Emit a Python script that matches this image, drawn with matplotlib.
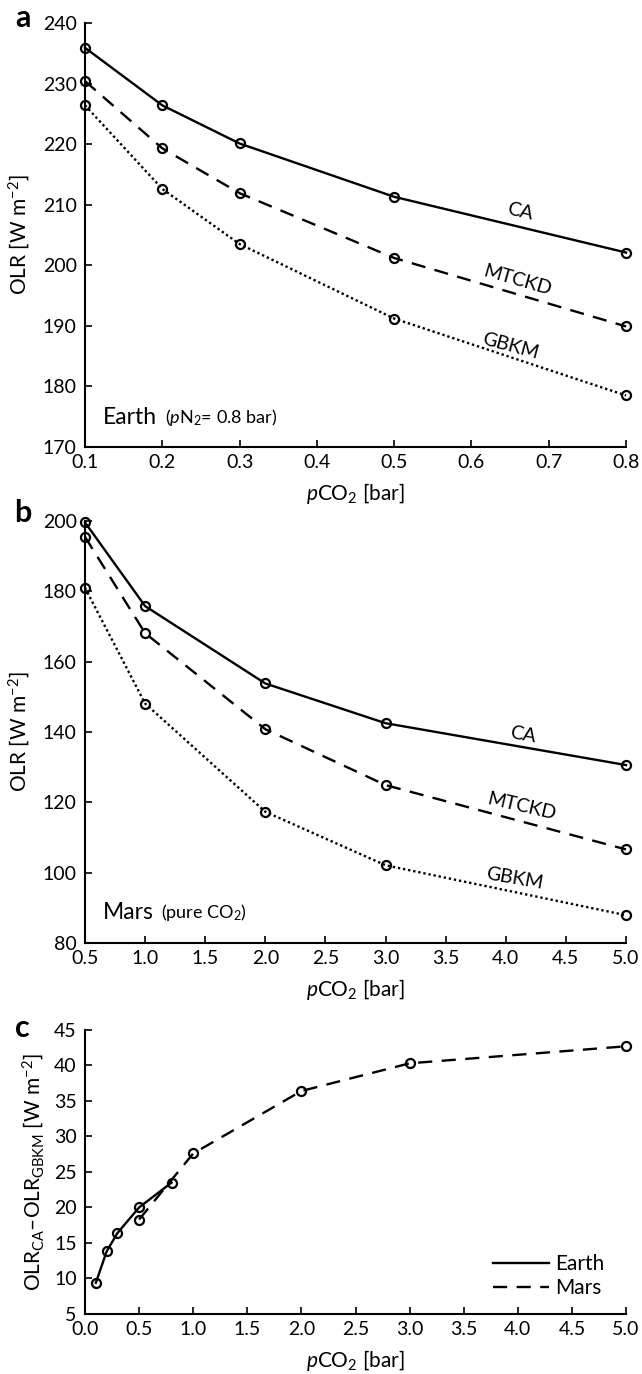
import matplotlib
matplotlib.use("Agg")
import matplotlib.pyplot as plt

plt.rcParams["font.family"] = ["Lato", "DejaVu Sans"]
plt.rcParams["mathtext.fontset"] = "custom"
plt.rcParams["mathtext.rm"] = "Lato"
plt.rcParams["mathtext.it"] = "Lato:italic"
plt.rcParams["mathtext.default"] = "regular"

# panel a: Earth, pN2 = 0.8 bar
earth_p = [0.1, 0.2, 0.3, 0.5, 0.8]
earth_ca = [235.9, 226.4, 220.1, 211.3, 202.1]
earth_mtckd = [230.4, 219.3, 211.9, 201.2, 189.9]
earth_gbkm = [226.4, 212.6, 203.5, 191.2, 178.5]

# panel b: Mars, pure CO2
mars_p = [0.5, 1.0, 2.0, 3.0, 5.0]
mars_ca = [199.6, 175.8, 153.8, 142.5, 130.6]
mars_mtckd = [195.5, 168.1, 140.8, 124.9, 106.6]
mars_gbkm = [181.0, 148.1, 117.3, 102.1, 87.9]

# panel c: CA - GBKM
earth_diff = [9.4, 13.8, 16.4, 20.0, 23.5]
mars_diff = [18.3, 27.6, 36.4, 40.3, 42.7]

fig = plt.figure(figsize=(6.42, 13.74), dpi=100)
ax_a = fig.add_axes([0.1324, 0.6747, 0.8427, 0.3086])
ax_b = fig.add_axes([0.1324, 0.3137, 0.8427, 0.3071])
ax_c = fig.add_axes([0.1324, 0.0437, 0.8427, 0.2067])

mk = dict(marker="o", ms=6.5, mfc="none", mec="black", mew=1.6, color="black", clip_on=False, zorder=3)
dash = (0, (6, 4))
dot = (0, (1, 1.2))

def style(ax):
    for s in ["top", "right"]:
        ax.spines[s].set_visible(False)
    for s in ["left", "bottom"]:
        ax.spines[s].set_linewidth(1.5)
    ax.tick_params(direction="in", length=5, width=1.2, labelsize=14)
    ax.tick_params(axis="x", pad=5)
    ax.tick_params(axis="y", pad=6)

# a
ax_a.plot(earth_p, earth_ca, ls="-", lw=1.7, **mk)
ax_a.plot(earth_p, earth_mtckd, ls=dash, lw=1.7, **mk)
ax_a.plot(earth_p, earth_gbkm, ls=dot, lw=1.7, **mk)
ax_a.set_xlim(0.1, 0.8)
ax_a.set_ylim(170, 240)
ax_a.set_xticks([0.1, 0.2, 0.3, 0.4, 0.5, 0.6, 0.7, 0.8])
ax_a.set_yticks(range(170, 241, 10))
ax_a.set_xlabel("$\\it{p}$CO$_2$ [bar]", fontsize=15, labelpad=7)
ax_a.set_ylabel("OLR [W m$^{-2}$]", fontsize=15, labelpad=8)
ax_a.text(0.663, 208.8, "CA", fontsize=14, rotation=-13, ha="center", va="center")
ax_a.text(0.66, 197.5, "MTCKD", fontsize=14, rotation=-16, ha="center", va="center")
ax_a.text(0.65, 186.7, "GBKM", fontsize=14, rotation=-15, ha="center", va="center")
ax_a.text(0.033, 0.07, "Earth", fontsize=16.5, transform=ax_a.transAxes, va="center")
ax_a.text(0.148, 0.07, "($\\it{p}$N$_2$= 0.8 bar)", fontsize=13, transform=ax_a.transAxes, va="center")
style(ax_a)

# b
ax_b.plot(mars_p, mars_ca, ls="-", lw=1.7, **mk)
ax_b.plot(mars_p, mars_mtckd, ls=dash, lw=1.7, **mk)
ax_b.plot(mars_p, mars_gbkm, ls=dot, lw=1.7, **mk)
ax_b.set_xlim(0.5, 5.0)
ax_b.set_ylim(80, 200)
ax_b.set_xticks([0.5, 1.0, 1.5, 2.0, 2.5, 3.0, 3.5, 4.0, 4.5, 5.0])
ax_b.set_xticklabels(["%.1f" % v for v in ax_b.get_xticks()])
ax_b.set_yticks(range(80, 201, 20))
ax_b.set_xlabel("$\\it{p}$CO$_2$ [bar]", fontsize=15, labelpad=7)
ax_b.set_ylabel("OLR [W m$^{-2}$]", fontsize=15, labelpad=8)
ax_b.text(4.14, 139.1, "CA", fontsize=14, rotation=-10, ha="center", va="center")
ax_b.text(4.13, 118.8, "MTCKD", fontsize=14, rotation=-13, ha="center", va="center")
ax_b.text(4.07, 98.4, "GBKM", fontsize=14, rotation=-10, ha="center", va="center")
ax_b.text(0.033, 0.073, "Mars", fontsize=16.5, transform=ax_b.transAxes, va="center")
ax_b.text(0.14, 0.073, "(pure CO$_2$)", fontsize=13, transform=ax_b.transAxes, va="center")
style(ax_b)

# c
ax_c.plot(earth_p, earth_diff, ls="-", lw=1.7, **mk)
ax_c.plot(mars_p, mars_diff, ls=dash, lw=1.7, **mk)
ax_c.set_xlim(0.0, 5.0)
ax_c.set_ylim(5, 45)
ax_c.set_xticks([0.0, 0.5, 1.0, 1.5, 2.0, 2.5, 3.0, 3.5, 4.0, 4.5, 5.0])
ax_c.set_xticklabels(["%.1f" % v for v in ax_c.get_xticks()])
ax_c.set_yticks(range(5, 46, 5))
ax_c.set_xlabel("$\\it{p}$CO$_2$ [bar]", fontsize=15, labelpad=7)
ax_c.set_ylabel("OLR$_{CA}$\u2013OLR$_{GBKM}$ [W m$^{-2}$]", fontsize=15, labelpad=6)
h1, = ax_c.plot([], [], "k-", lw=1.7)
h2, = ax_c.plot([], [], "k", ls=dash, lw=1.7)
ax_c.legend([h1, h2], ["Earth", "Mars"], loc="lower right", bbox_to_anchor=(0.995, -0.01),
            frameon=False, fontsize=15, handlelength=2.7, handletextpad=0.3, labelspacing=0.2)
style(ax_c)

fig.text(0.035, 0.987, "a", fontsize=22, fontweight="bold", ha="center", va="center")
fig.text(0.035, 0.627, "b", fontsize=22, fontweight="bold", ha="center", va="center")
fig.text(0.035, 0.252, "c", fontsize=22, fontweight="bold", ha="center", va="center")

fig.savefig("out.png", dpi=100)
